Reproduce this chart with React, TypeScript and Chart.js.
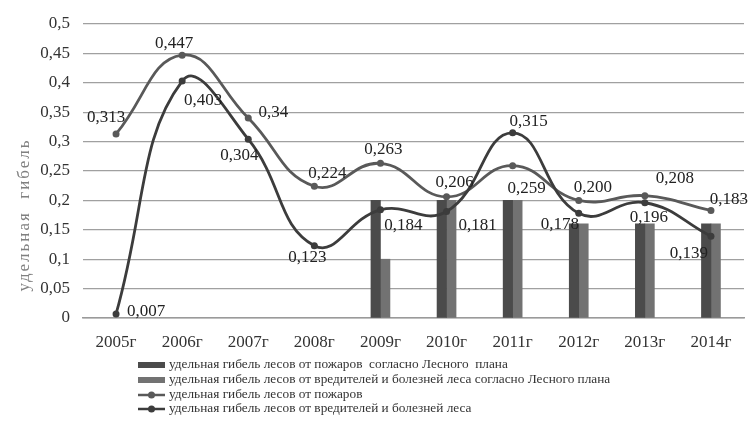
import React, { useEffect, useRef } from "react";
import { Chart, registerables } from "chart.js";

Chart.register(...registerables);

const categories = ["2005г", "2006г", "2007г", "2008г", "2009г", "2010г", "2011г", "2012г", "2013г", "2014г"];
const firesPlan = [null, null, null, null, 0.2, 0.2, 0.2, 0.16, 0.16, 0.16];
const pestsPlan = [null, null, null, null, 0.1, 0.2, 0.2, 0.16, 0.16, 0.16];
const fires = [0.313, 0.447, 0.34, 0.224, 0.263, 0.206, 0.259, 0.2, 0.208, 0.183];
const pests = [0.007, 0.403, 0.304, 0.123, 0.184, 0.181, 0.315, 0.178, 0.196, 0.139];
const firesLabels = ["0,313", "0,447", "0,34", "0,224", "0,263", "0,206", "0,259", "0,200", "0,208", "0,183"];
const pestsLabels = ["0,007", "0,403", "0,304", "0,123", "0,184", "0,181", "0,315", "0,178", "0,196", "0,139"];
const yTickLabels = ["0", "0,05", "0,1", "0,15", "0,2", "0,25", "0,3", "0,35", "0,4", "0,45", "0,5"];
const seriesNames = [
  "удельная гибель лесов от пожаров  согласно Лесного  плана",
  "удельная гибель лесов от вредителей и болезней леса согласно Лесного плана",
  "удельная гибель лесов от пожаров",
  "удельная гибель лесов от вредителей и болезней леса",
];
const yTitle = "удельная  гибель";

// label placement (style): offsets from the point, in px
const firesOffsets = [[-10, -16], [-8, -12], [25, -6], [13, -13], [3, -14], [8, -14], [14, 23], [14, -13], [30, -17], [18, -11]];
const pestsOffsets = [[30, -2], [21, 19], [-9, 16], [-7, 12], [23, 16], [31, 14], [16, -11], [-19, 11], [4, 15], [-22, 17]];

const FONT = "'Liberation Serif', 'Times New Roman', serif";
const BAR1 = "#4b4b4b";
const BAR2 = "#727272";
const LINE1 = "#595959";
const LINE2 = "#3c3c3c";

const extrasPlugin = {
  id: "extras",
  afterDatasetsDraw(chart: any) {
    const ctx = chart.ctx;
    ctx.save();
    ctx.font = `17px ${FONT}`;
    ctx.fillStyle = "#222";
    ctx.textAlign = "center";
    ctx.textBaseline = "middle";
    const draw = (dsIndex: number, labels: string[], offs: number[][]) => {
      const meta = chart.getDatasetMeta(dsIndex);
      meta.data.forEach((el: any, i: number) => {
        ctx.fillText(labels[i], el.x + offs[i][0], el.y + offs[i][1]);
      });
    };
    draw(2, firesLabels, firesOffsets);
    draw(3, pestsLabels, pestsOffsets);

    // y axis title
    ctx.save();
    ctx.translate(25, 215);
    ctx.rotate(-Math.PI / 2);
    ctx.fillStyle = "#808080";
    ctx.font = `17px ${FONT}`;
    (ctx as any).letterSpacing = "2px";
    ctx.fillText(yTitle, 0, 0);
    ctx.restore();

    // legend
    const colors = [BAR1, BAR2, LINE1, LINE2];
    const rowsY = [365, 380, 395, 409];
    const mx0 = 138;
    const mx1 = 165;
    ctx.textAlign = "left";
    ctx.font = `13.3px ${FONT}`;
    seriesNames.forEach((name, i) => {
      const y = rowsY[i];
      if (i < 2) {
        ctx.fillStyle = colors[i];
        ctx.fillRect(mx0, y - 3, mx1 - mx0, 6);
      } else {
        ctx.strokeStyle = colors[i];
        ctx.lineWidth = 2.5;
        ctx.beginPath();
        ctx.moveTo(mx0, y);
        ctx.lineTo(mx1, y);
        ctx.stroke();
        ctx.fillStyle = colors[i];
        ctx.beginPath();
        ctx.arc((mx0 + mx1) / 2, y, 3.5, 0, Math.PI * 2);
        ctx.fill();
      }
      ctx.fillStyle = "#333";
      ctx.fillText(name, 169, y);
    });
    ctx.restore();
  },
};

export default function App() {
  const ref = useRef<HTMLCanvasElement | null>(null);
  useEffect(() => {
    document.body.style.margin = "0";
    const canvas = ref.current;
    if (!canvas) return;
    const chart = new Chart(canvas, {
      type: "bar",
      data: {
        labels: categories,
        datasets: [
          { type: "bar", label: seriesNames[0], data: firesPlan as any, backgroundColor: BAR1, barThickness: 9.5, order: 2 },
          { type: "bar", label: seriesNames[1], data: pestsPlan as any, backgroundColor: BAR2, barThickness: 9.5, order: 2 },
          {
            type: "line", label: seriesNames[2], data: fires, borderColor: LINE1, backgroundColor: LINE1,
            borderWidth: 2.8, tension: 0.45, pointRadius: 3.5, pointBackgroundColor: LINE1, pointBorderWidth: 0, order: 1,
          },
          {
            type: "line", label: seriesNames[3], data: pests, borderColor: LINE2, backgroundColor: LINE2,
            borderWidth: 2.8, tension: 0.45, pointRadius: 3.5, pointBackgroundColor: LINE2, pointBorderWidth: 0, order: 0,
          },
        ] as any,
      },
      options: {
        responsive: false,
        animation: false,
        devicePixelRatio: 1,
        layout: { padding: { left: 0, right: 4, top: 24, bottom: 72 } },
        plugins: { legend: { display: false }, tooltip: { enabled: false } },
        scales: {
          x: {
            grid: { display: false, drawTicks: false },
            border: { display: true, color: "#9a9a9a", width: 1.5 },
            ticks: { color: "#333", font: { family: FONT, size: 17 }, padding: 14, maxRotation: 0, autoSkip: false },
            afterFit: (s: any) => { s.height = 40; },
          },
          y: {
            min: 0,
            max: 0.5,
            grid: { color: "#a0a0a0", lineWidth: 1.3, drawTicks: false },
            border: { display: false },
            ticks: {
              stepSize: 0.05,
              color: "#333",
              font: { family: FONT, size: 17 },
              padding: 13,
              callback: (_v: any, i: number) => yTickLabels[i],
            },
            afterFit: (s: any) => { s.width = 83; },
          },
        },
      },
      plugins: [extrasPlugin],
    });
    return () => chart.destroy();
  }, []);
  return (
    <div style={{ width: 748, height: 430, background: "#fff" }}>
      <canvas ref={ref} width={748} height={430} style={{ display: "block" }} />
    </div>
  );
}
